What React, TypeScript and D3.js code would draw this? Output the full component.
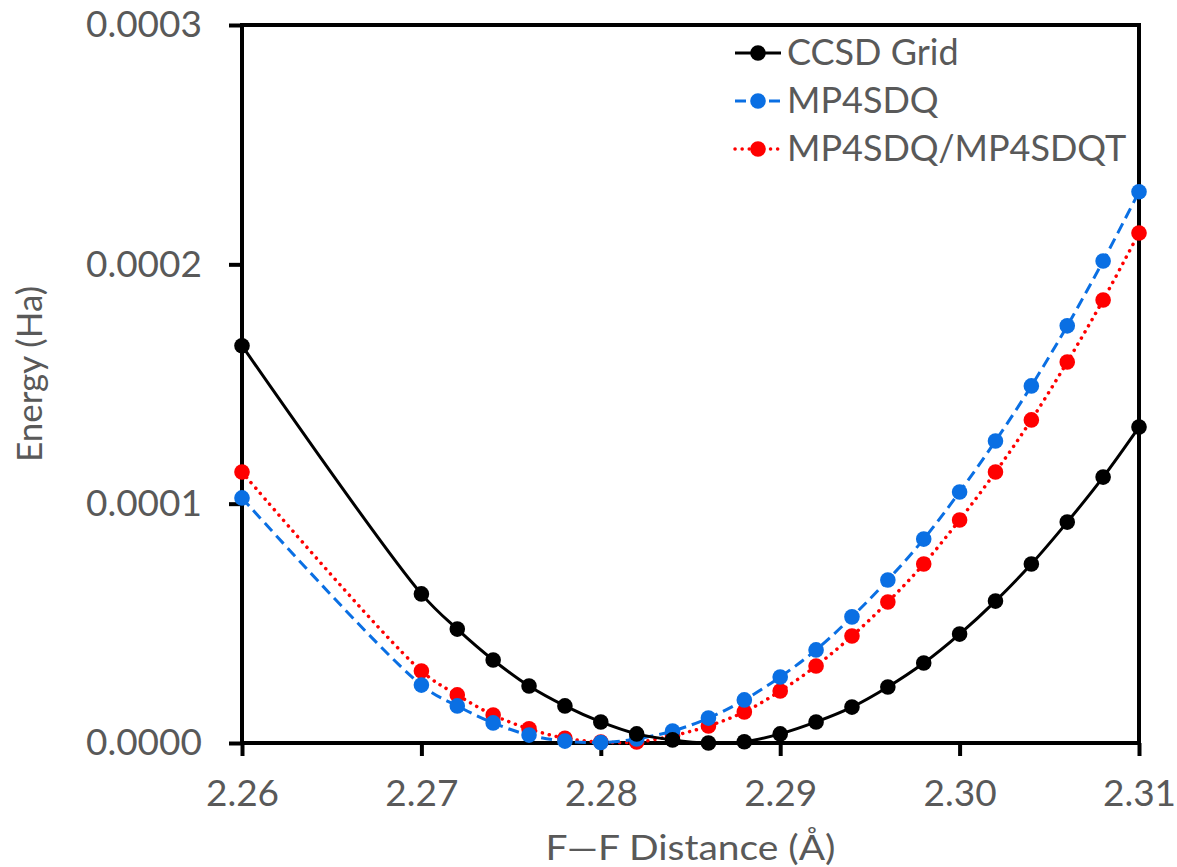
import React, { useEffect, useRef } from "react";
import * as d3 from "d3";

// F-F distance (Angstrom)
const distances = [
  2.26, 2.27, 2.272, 2.274, 2.276, 2.278, 2.28, 2.282, 2.284, 2.286, 2.288,
  2.29, 2.292, 2.294, 2.296, 2.298, 2.3, 2.302, 2.304, 2.306, 2.308, 2.31,
];

// energies (Ha)
const ccsdGrid = [
  0.000166, 0.0000623, 0.0000476, 0.0000347, 0.0000238, 0.0000155, 0.0000088,
  0.0000038, 0.0000013, 0.0, 0.0000005, 0.0000038, 0.0000088, 0.000015,
  0.0000234, 0.0000334, 0.0000455, 0.0000593, 0.0000748, 0.0000923, 0.0001111,
  0.000132,
];
const mp4sdq = [
  0.0001024, 0.0000242, 0.0000155, 0.0000084, 0.0000033, 0.0000008, 0.0000002,
  0.0000017, 0.000005, 0.0000104, 0.000018, 0.0000276, 0.0000389, 0.0000527,
  0.0000681, 0.0000852, 0.0001049, 0.0001262, 0.0001492, 0.0001743, 0.0002014,
  0.0002303,
];
const mp4sdqt = [
  0.0001132, 0.0000301, 0.0000201, 0.0000117, 0.0000059, 0.000002, 0.0000004,
  0.0000004, 0.000003, 0.0000071, 0.000013, 0.0000217, 0.0000322, 0.0000447,
  0.0000589, 0.0000748, 0.0000932, 0.0001132, 0.000135, 0.0001592, 0.0001851,
  0.0002131,
];

const xTicks = [2.26, 2.27, 2.28, 2.29, 2.3, 2.31];
const yTicks = [0, 0.0001, 0.0002, 0.0003];

const seriesNames = ["CCSD Grid", "MP4SDQ", "MP4SDQ/MP4SDQT"];

export default function App() {
  const ref = useRef<SVGSVGElement>(null);

  useEffect(() => {
    const width = 1177;
    const height = 867;
    const margin = { top: 25, right: 38, bottom: 124, left: 242 };
    const font = "Lato, 'Open Sans', sans-serif";
    const grey = "#595959";

    const svg = d3.select(ref.current);
    svg.selectAll("*").remove();

    const x = d3
      .scaleLinear()
      .domain([2.26, 2.31])
      .range([margin.left, width - margin.right]);
    const y = d3
      .scaleLinear()
      .domain([0, 0.0003])
      .range([height - margin.bottom, margin.top]);

    // plot frame
    svg
      .append("rect")
      .attr("x", x(2.26))
      .attr("y", y(0.0003))
      .attr("width", x(2.31) - x(2.26))
      .attr("height", y(0) - y(0.0003))
      .attr("fill", "none")
      .attr("stroke", "black")
      .attr("stroke-width", 4);

    // y axis
    const yAxis = svg
      .append("g")
      .attr("transform", "translate(" + x(2.26) + ",0)")
      .call(
        d3
          .axisLeft(y)
          .tickValues(yTicks)
          .tickSize(13)
          .tickPadding(27)
          .tickFormat(d3.format(".4f"))
      );
    yAxis.select(".domain").remove();
    yAxis.selectAll("line").attr("stroke", "black").attr("stroke-width", 4);
    yAxis
      .selectAll("text")
      .attr("fill", grey)
      .style("font-family", font)
      .style("font-size", "37px");

    // x axis
    const xAxis = svg
      .append("g")
      .attr("transform", "translate(0," + y(0) + ")")
      .call(
        d3
          .axisBottom(x)
          .tickValues(xTicks)
          .tickSize(13)
          .tickPadding(24)
          .tickFormat(d3.format(".2f"))
      );
    xAxis.select(".domain").remove();
    xAxis.selectAll("line").attr("stroke", "black").attr("stroke-width", 4);
    xAxis
      .selectAll("text")
      .attr("fill", grey)
      .style("font-family", font)
      .style("font-size", "37px");

    // axis titles
    svg
      .append("text")
      .attr("x", (x(2.26) + x(2.31)) / 2)
      .attr("y", 860)
      .attr("text-anchor", "middle")
      .attr("fill", grey)
      .attr("textLength", 290)
      .attr("lengthAdjust", "spacingAndGlyphs")
      .style("font-family", font)
      .style("font-size", "35px")
      .text("F\u2014F Distance (\u00c5)");

    svg
      .append("text")
      .attr("transform", "translate(42," + 374 + ")rotate(-90)")
      .attr("text-anchor", "middle")
      .attr("fill", grey)
      .style("font-family", font)
      .style("font-size", "35px")
      .text("Energy (Ha)");

    const series = [
      { name: seriesNames[0], values: ccsdGrid, color: "black", dash: null, cap: "butt" },
      { name: seriesNames[1], values: mp4sdq, color: "#0A6FE3", dash: "11,6", cap: "butt" },
      { name: seriesNames[2], values: mp4sdqt, color: "#FF0000", dash: "0.1,7", cap: "round" },
    ];

    const line = d3
      .line<number>()
      .x((d, i) => x(distances[i]))
      .y((d) => y(d))
      .curve(d3.curveCatmullRom.alpha(0.5));

    // draw in reverse so black lies on top like the reference
    series
      .slice()
      .reverse()
      .forEach((s) => {
        const g = svg.append("g");
        g.append("path")
          .datum(s.values)
          .attr("d", line)
          .attr("fill", "none")
          .attr("stroke", s.color)
          .attr("stroke-width", s.cap === "round" ? 3.5 : 3)
          .attr("stroke-linecap", s.cap)
          .attr("stroke-dasharray", s.dash);
        g.selectAll("circle")
          .data(s.values)
          .enter()
          .append("circle")
          .attr("cx", (d, i) => x(distances[i]))
          .attr("cy", (d) => y(d))
          .attr("r", 7.8)
          .attr("fill", s.color);
      });

    // legend
    const legend = svg.append("g").attr("transform", "translate(735,53)");
    series.forEach((s, i) => {
      const row = legend.append("g").attr("transform", "translate(0," + i * 48 + ")");
      row
        .append("line")
        .attr("x1", 0)
        .attr("x2", 46)
        .attr("stroke", s.color)
        .attr("stroke-width", s.cap === "round" ? 3.5 : 3)
        .attr("stroke-linecap", s.cap)
        .attr("stroke-dasharray", s.dash);
      row.append("circle").attr("cx", 23).attr("r", 7.8).attr("fill", s.color);
      row
        .append("text")
        .attr("x", 52)
        .attr("y", 12)
        .attr("fill", grey)
        .style("font-family", font)
        .style("font-size", "36px")
        .text(s.name);
    });
  }, []);

  return (
    <svg
      ref={ref}
      width={1177}
      height={867}
      style={{ position: "absolute", left: 0, top: 0, background: "white" }}
    />
  );
}
